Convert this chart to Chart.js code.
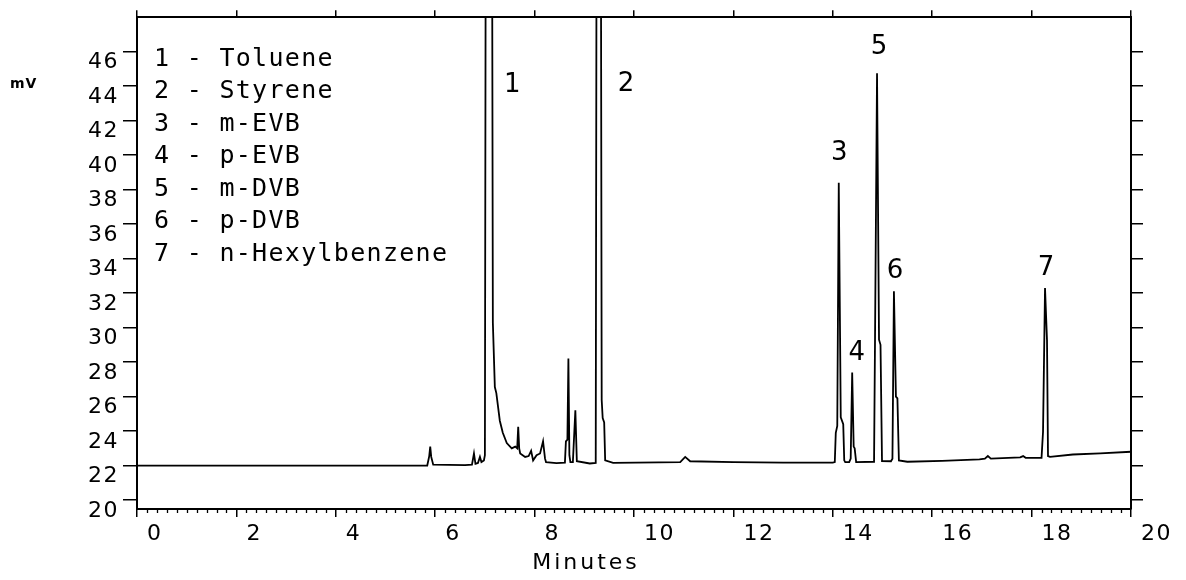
<!DOCTYPE html>
<html>
<head>
<meta charset="utf-8">
<script src="https://cdn.jsdelivr.net/npm/chart.js@4"></script>
<style>
html,body{margin:0;padding:0;background:#fff;}
#wrap{width:1186px;height:580px;}
</style>
</head>
<body>
<div id="wrap"><canvas id="c" width="1186" height="580"></canvas></div>
<script>
// ---- data ----
const timeMin = [
  0.00, 2.00, 4.00, 5.84, 5.88, 5.90, 5.92, 5.96, 6.60, 6.74,
  6.78, 6.81, 6.86, 6.90, 6.93, 6.98, 7.00, 7.02, 7.14, 7.16,
  7.20, 7.23, 7.30, 7.36, 7.44, 7.54, 7.61, 7.65, 7.67, 7.69,
  7.71, 7.81, 7.88, 7.93, 7.97, 8.04, 8.11, 8.17, 8.21, 8.23,
  8.44, 8.61, 8.63, 8.66, 8.68, 8.70, 8.72, 8.77, 8.80, 8.82,
  8.85, 9.11, 9.23, 9.25, 9.33, 9.35, 9.37, 9.40, 9.42, 9.58,
  10.50, 10.93, 11.03, 11.13, 12.00, 13.00, 14.00, 14.04, 14.06, 14.09,
  14.12, 14.16, 14.21, 14.23, 14.25, 14.33, 14.36, 14.39, 14.42, 14.44,
  14.47, 14.83, 14.85, 14.89, 14.93, 14.96, 14.99, 15.17, 15.20, 15.23,
  15.27, 15.30, 15.33, 15.50, 16.20, 16.95, 17.06, 17.12, 17.18, 17.77,
  17.83, 17.88, 18.20, 18.23, 18.27, 18.31, 18.33, 18.37, 18.83, 19.38,
  20.00
];
const signalMv = [
  22.00, 22.00, 22.00, 22.00, 22.55, 23.10, 22.50, 22.05, 22.02, 22.05,
  22.70, 22.10, 22.15, 22.50, 22.20, 22.30, 22.60, 60.00, 60.00, 30.30,
  26.55, 26.20, 24.60, 23.90, 23.30, 23.00, 23.10, 23.00, 24.25, 23.00,
  22.70, 22.50, 22.55, 22.85, 22.30, 22.60, 22.70, 23.40, 22.40, 22.20,
  22.14, 22.17, 23.40, 23.50, 28.20, 22.60, 22.20, 22.20, 24.00, 25.20,
  22.25, 22.12, 22.15, 60.00, 60.00, 25.80, 24.75, 24.50, 22.30, 22.16,
  22.18, 22.20, 22.50, 22.25, 22.20, 22.17, 22.17, 22.20, 23.90, 24.30,
  38.40, 24.80, 24.40, 22.30, 22.20, 22.20, 22.40, 27.40, 23.10, 23.00,
  22.20, 22.22, 29.50, 44.75, 29.30, 29.00, 22.26, 22.25, 22.40, 32.10,
  26.00, 25.90, 22.30, 22.22, 22.27, 22.36, 22.40, 22.55, 22.40, 22.47,
  22.55, 22.45, 22.45, 23.96, 32.30, 29.26, 22.55, 22.50, 22.64, 22.70,
  22.80
];
const xTickValues = [0, 2, 4, 6, 8, 10, 12, 14, 16, 18, 20];
const yTickValues = [20, 22, 24, 26, 28, 30, 32, 34, 36, 38, 40, 42, 44, 46];
const compounds = ['Toluene', 'Styrene', 'm-EVB', 'p-EVB', 'm-DVB', 'p-DVB', 'n-Hexylbenzene'];
const peakNumbers = ['1', '2', '3', '4', '5', '6', '7'];
const peakLabelTime = [7.55, 9.84, 14.13, 14.48, 14.93, 15.25, 18.29];
const peakLabelMv = [44.2, 44.26, 40.27, 28.69, 46.4, 33.43, 33.6];
const xTitle = 'Minutes';
const yTitle = 'mV';

const BLACK = '#000';

const setXTicks = s => { s.ticks = xTickValues.map(v => ({ value: v })); };
const setYTicks = s => { s.ticks = yTickValues.map(v => ({ value: v })); };

const decorPlugin = {
  id: 'decor',
  beforeDraw(chart) {
    chart.ctx.letterSpacing = '1.5px';
  },
  afterDraw(chart) {
    const ctx = chart.ctx;
    const xs = chart.scales.x;
    const ys = chart.scales.y;
    const area = chart.chartArea;
    ctx.save();
    // minor ticks on bottom axis
    ctx.strokeStyle = BLACK;
    ctx.lineWidth = 1.3;
    ctx.beginPath();
    for (let k = 0; k <= 100; k++) {
      if (k % 10 === 0) continue;
      const px = Math.round(xs.getPixelForValue(k * 0.2)) + 0.5;
      ctx.moveTo(px, area.bottom);
      ctx.lineTo(px, area.bottom + 4);
    }
    ctx.stroke();

    ctx.fillStyle = BLACK;
    ctx.textAlign = 'left';
    ctx.textBaseline = 'alphabetic';
    // legend text
    ctx.font = '25px "DejaVu Sans Mono"';
    ctx.letterSpacing = '1.3px';
    compounds.forEach((name, i) => {
      ctx.fillText(peakNumbers[i] + ' - ' + name, 154, 65.5 + i * 32.5);
    });
    // peak numbers
    ctx.font = '26px "DejaVu Sans"';
    ctx.letterSpacing = '0px';
    ctx.textAlign = 'center';
    peakNumbers.forEach((n, i) => {
      const px = xs.getPixelForValue(peakLabelTime[i]);
      const py = ys.getPixelForValue(peakLabelMv[i]);
      ctx.fillText(n, px, py + 9.5);
    });
    // axis titles
    ctx.font = '22px "DejaVu Sans"';
    ctx.letterSpacing = '3px';
    ctx.fillText(xTitle, 586, 569);
    ctx.font = 'bold 14px "DejaVu Sans"';
    ctx.letterSpacing = '1px';
    ctx.textAlign = 'left';
    ctx.fillText(yTitle, 10, 88);
    ctx.restore();
    ctx.letterSpacing = '0px';
  }
};

const tickFont = { family: 'DejaVu Sans', size: 22 };

new Chart(document.getElementById('c'), {
  type: 'line',
  data: {
    datasets: [{
      data: timeMin.map((t, i) => ({ x: t, y: signalMv[i] })),
      borderColor: BLACK,
      borderWidth: 1.8,
      pointRadius: 0,
      tension: 0,
      fill: false
    }]
  },
  options: {
    responsive: false,
    animation: false,
    devicePixelRatio: 1,
    layout: { padding: 0 },
    plugins: { legend: { display: false }, tooltip: { enabled: false } },
    scales: {
      x: {
        type: 'linear', axis: 'x', position: 'bottom', min: 0, max: 20,
        afterBuildTicks: setXTicks,
        ticks: { align: 'start', labelOffset: 10, padding: 4, color: BLACK, font: tickFont, maxRotation: 0, autoSkip: false },
        grid: { drawOnChartArea: false, tickLength: 8, color: BLACK, lineWidth: 1.5 },
        border: { display: true, color: BLACK, width: 2 },
        afterFit: s => { s.height = 71; }
      },
      xTop: {
        type: 'linear', axis: 'x', position: 'top', min: 0, max: 20,
        afterBuildTicks: setXTicks,
        ticks: { display: false },
        grid: { drawOnChartArea: false, tickLength: 7, color: BLACK, lineWidth: 1.5 },
        border: { display: true, color: BLACK, width: 2 },
        afterFit: s => { s.height = 16; }
      },
      y: {
        type: 'linear', axis: 'y', position: 'left', min: 19.48, max: 48,
        afterBuildTicks: setYTicks,
        ticks: { padding: 4, labelOffset: 11, color: BLACK, font: tickFont, autoSkip: false },
        grid: { drawOnChartArea: false, tickLength: 14, color: BLACK, lineWidth: 1.5 },
        border: { display: true, color: BLACK, width: 2 },
        afterFit: s => { s.width = 137; }
      },
      yRight: {
        type: 'linear', axis: 'y', position: 'right', min: 19.48, max: 48,
        afterBuildTicks: setYTicks,
        ticks: { display: false },
        grid: { drawOnChartArea: false, tickLength: 12, color: BLACK, lineWidth: 1.5 },
        border: { display: true, color: BLACK, width: 2 },
        afterFit: s => { s.width = 55; }
      }
    }
  },
  plugins: [decorPlugin]
});
</script>
</body>
</html>
